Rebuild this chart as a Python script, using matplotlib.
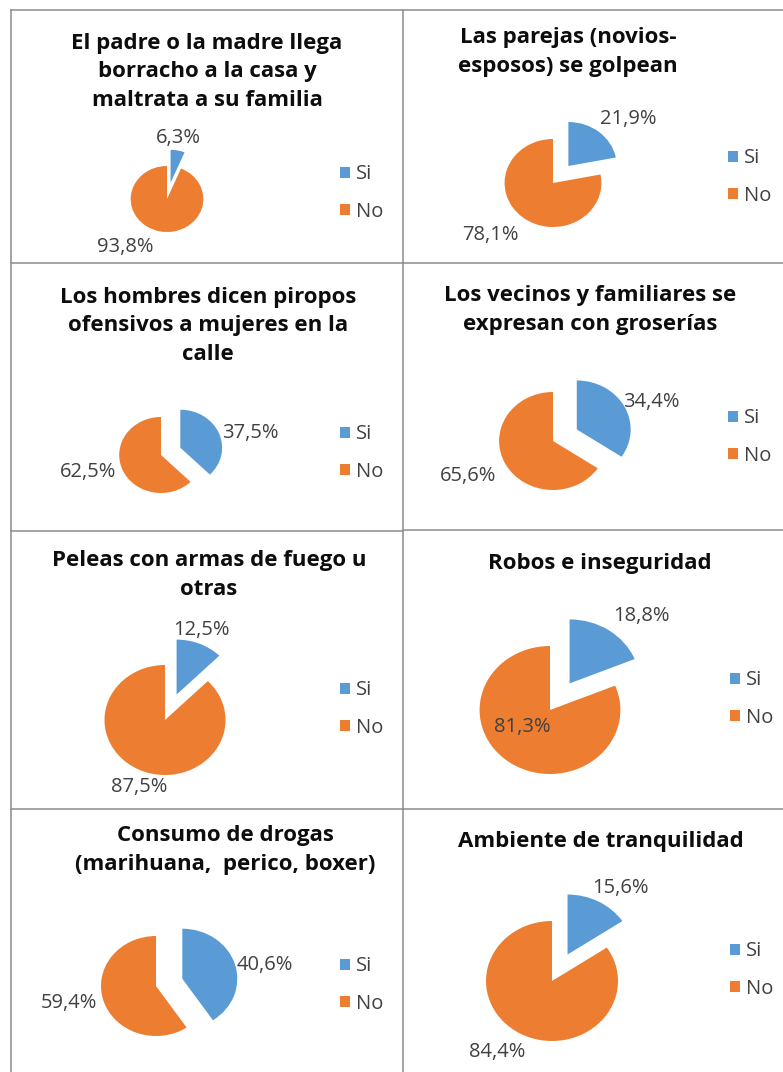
import matplotlib.pyplot as plt
from matplotlib.patches import Patch

plt.rcParams['font.family'] = ['Open Sans', 'DejaVu Sans']

# datos (porcentaje Si / No por pregunta)
titles = [
    'El padre o la madre llega\nborracho a la casa y\nmaltrata a su familia',
    'Las parejas (novios-\nesposos) se golpean',
    'Los hombres dicen piropos\nofensivos a mujeres en la\ncalle',
    'Los vecinos y familiares se\nexpresan con groserías',
    'Peleas con armas de fuego u\notras',
    'Robos e inseguridad',
    'Consumo de drogas\n(marihuana,  perico, boxer)',
    'Ambiente de tranquilidad',
]
categories = ['Si', 'No']
si_pct = [6.3, 21.9, 37.5, 34.4, 12.5, 18.8, 40.6, 15.6]
no_pct = [93.8, 78.1, 62.5, 65.6, 87.5, 81.3, 59.4, 84.4]

colors = ['#5B9BD5', '#ED7D31']

# layout en pixeles de la imagen
W, H = 783, 1072
SX = 1.1  # la imagen original esta un poco estirada a lo ancho
pie_pos = [(167, 199, 33), (553, 183, 44), (161, 455, 38), (553, 441, 49),
           (165, 720, 55), (550, 710, 64), (156, 986, 50), (552, 981, 60)]
title_pos = [(207, 72), (568, 52), (208, 326), (590, 310),
             (209, 575), (600, 563), (225, 850), (601, 841)]
si_lab = [(178, 138), (628, 119), (250, 433), (651, 402),
          (201, 630), (641, 616), (265, 965), (620, 888)]
no_lab = [(125, 247), (490, 235), (88, 472), (468, 476),
          (139, 787), (522, 727), (69, 1003), (497, 1052)]
leg_pos = [(340, 193), (728, 177), (340, 453), (728, 437),
           (340, 709), (730, 699), (340, 985), (730, 970)]

fig = plt.figure(figsize=(W / 100, H / 100), dpi=100)

# pies
ax = fig.add_axes([0, 0, 1, 1])

# capa de arriba: lineas de la tabla, titulos y etiquetas
ax0 = fig.add_axes([0, 0, 1, 1])
ax0.set_zorder(3)
ax0.set_xlim(0, W)
ax0.set_ylim(H, 0)
ax0.axis('off')
grid = '#8c8c8c'
lw = 1.1
ax0.plot([11, W], [10, 10], color=grid, lw=lw)
ax0.plot([11, 11], [10, H], color=grid, lw=lw)
ax0.plot([403, 403], [10, H], color=grid, lw=lw)
ax0.plot([11, W], [263, 263], color=grid, lw=lw)
ax0.plot([11, 403], [531, 531], color=grid, lw=lw)
ax0.plot([403, W], [530, 530], color=grid, lw=lw)
ax0.plot([11, W], [809, 809], color=grid, lw=lw)

for i in range(len(titles)):
    cx, cy, r = pie_pos[i]
    # explode de matplotlib va en unidades de datos -> escalar con el radio
    ax.pie([si_pct[i], no_pct[i]], colors=colors, startangle=90,
           counterclock=False, explode=[0.5 * r, 0], radius=r,
           center=(cx / SX, H - cy), wedgeprops=dict(linewidth=0))

    tx, ty = title_pos[i]
    ax0.text(tx, ty, titles[i], ha='center', va='center', fontsize=16,
             fontweight='bold', color='#0d0d0d', linespacing=1.45)

    for val, (lx, ly) in zip([si_pct[i], no_pct[i]], [si_lab[i], no_lab[i]]):
        ax0.text(lx, ly, f'{val:.1f}'.replace('.', ',') + '%', ha='center',
                 va='center', fontsize=14.5, color='#404040')

    gx, gy = leg_pos[i]
    handles = [Patch(facecolor=c, edgecolor='none') for c in colors]
    fig.legend(handles, categories, loc='center left',
               bbox_to_anchor=(gx / W, 1 - gy / H), frameon=False,
               fontsize=14.5, handlelength=0.5, handleheight=0.5,
               handletextpad=0.3, labelspacing=0.85, borderpad=0,
               borderaxespad=0, labelcolor='#404040')

ax.set_aspect('auto')
ax.set_xlim(0, W / SX)
ax.set_ylim(0, H)
ax.axis('off')

fig.savefig('out.png', dpi=100)
